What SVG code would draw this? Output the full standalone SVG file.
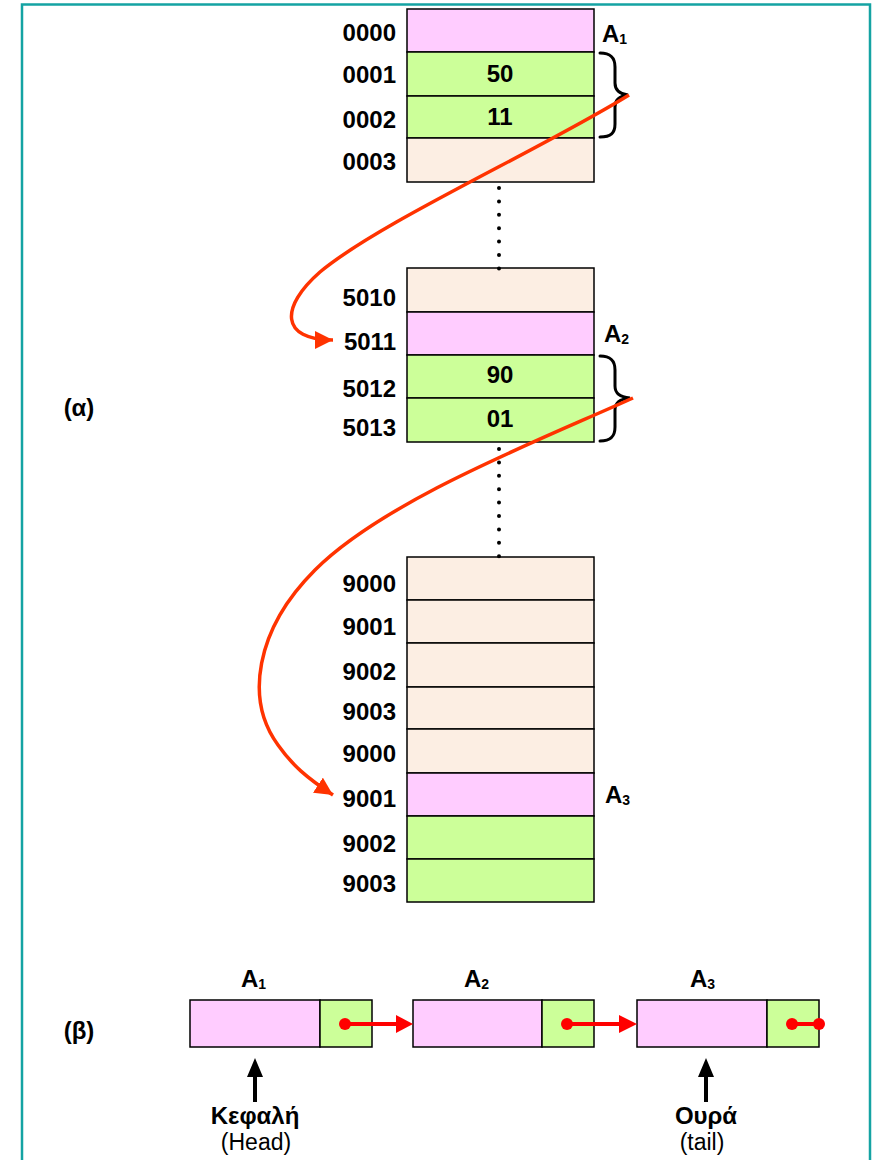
<svg xmlns="http://www.w3.org/2000/svg" width="875" height="1160" viewBox="0 0 875 1160">
<defs>
<style>
.pk{fill:#FFCCFF;stroke:#000;stroke-width:1.5}
.gr{fill:#CCFF99;stroke:#000;stroke-width:1.5}
.bg{fill:#FCEEE3;stroke:#000;stroke-width:1.5}
.lb{font-family:"Liberation Sans",Arial,sans-serif;font-weight:bold;font-size:24px;fill:#000}
.ad{text-anchor:end}
.mid{text-anchor:middle}
.sub{font-size:14px}
.brace{fill:none;stroke:#000;stroke-width:3;stroke-linecap:round}
.dots{fill:none;stroke:#000;stroke-width:4;stroke-linecap:round;stroke-dasharray:0 13.4}
.curve{fill:none;stroke:#FF3300;stroke-width:3.5}
.rl{fill:none;stroke:#FF0000;stroke-width:4}
.rd{fill:#FF0000}
.reg{font-family:"Liberation Sans",Arial,sans-serif;font-size:23px;fill:#000;text-anchor:middle}
</style>
<marker id="oa" markerWidth="20" markerHeight="20" refX="18" refY="9" orient="auto" markerUnits="userSpaceOnUse" viewBox="0 0 20 20">
<path d="M0,0 L18,9 L0,18 Z" fill="#FF3300"/>
</marker>
</defs>
<rect width="875" height="1160" fill="#fff"/>
<path d="M22,1160 V4.5 H870 V1160" fill="none" stroke="#14A3A3" stroke-width="2.5"/>

<g id="label-alpha"><text class="lb mid" x="79" y="416">(α)</text></g>
<g id="label-beta"><text class="lb mid" x="79" y="1039">(β)</text></g>

<g id="block1">
<rect class="pk" x="407" y="9" width="187" height="43"/>
<rect class="gr" x="407" y="52" width="187" height="44"/>
<rect class="gr" x="407" y="96" width="187" height="42"/>
<rect class="bg" x="407" y="138" width="187" height="44"/>
<text class="lb ad" x="396" y="41">0000</text>
<text class="lb ad" x="396" y="83">0001</text>
<text class="lb ad" x="396" y="128">0002</text>
<text class="lb ad" x="396" y="170">0003</text>
<text class="lb mid" x="500" y="82">50</text>
<text class="lb mid" x="500" y="125">11</text>
<text class="lb" x="602" y="42" font-size="21">A<tspan class="sub" dy="2">1</tspan></text>
<path class="brace" d="M600,53 C611,53 615,58 615,67 L615,83 C615,90 619,94 628,95 C619,96 615,100 615,107 L615,124 C615,133 611,137 600,137"/>
</g>

<g id="block2">
<rect class="bg" x="407" y="268" width="187" height="44"/>
<rect class="pk" x="407" y="312" width="187" height="43"/>
<rect class="gr" x="407" y="355" width="187" height="43"/>
<rect class="gr" x="407" y="398" width="187" height="44"/>
<text class="lb ad" x="396" y="306">5010</text>
<text class="lb ad" x="396" y="350">5011</text>
<text class="lb ad" x="396" y="397">5012</text>
<text class="lb ad" x="396" y="436">5013</text>
<text class="lb mid" x="500" y="383">90</text>
<text class="lb mid" x="500" y="427">01</text>
<text class="lb" x="604" y="342" font-size="21">A<tspan class="sub" dy="2">2</tspan></text>
<path class="brace" d="M600,356 C611,356 615,361 615,370 L615,386 C615,393 619,397 630,398 C619,399 615,403 615,410 L615,427 C615,436 611,441 600,441"/>
</g>

<g id="block3">
<rect class="bg" x="407" y="557" width="187" height="43"/>
<rect class="bg" x="407" y="600" width="187" height="43"/>
<rect class="bg" x="407" y="643" width="187" height="44"/>
<rect class="bg" x="407" y="687" width="187" height="42"/>
<rect class="bg" x="407" y="729" width="187" height="44"/>
<rect class="pk" x="407" y="773" width="187" height="43"/>
<rect class="gr" x="407" y="816" width="187" height="43"/>
<rect class="gr" x="407" y="859" width="187" height="43"/>
<text class="lb ad" x="396" y="592">9000</text>
<text class="lb ad" x="396" y="635">9001</text>
<text class="lb ad" x="396" y="680">9002</text>
<text class="lb ad" x="396" y="720">9003</text>
<text class="lb ad" x="396" y="762">9000</text>
<text class="lb ad" x="396" y="807">9001</text>
<text class="lb ad" x="396" y="852">9002</text>
<text class="lb ad" x="396" y="892">9003</text>
<text class="lb" x="605" y="803" font-size="21">A<tspan class="sub" dy="2">3</tspan></text>
</g>

<g id="gaps">
<path class="dots" d="M499,188 V268.5"/>
<path class="dots" d="M499,449 V556.5"/>
</g>

<g id="list-node1">
<rect class="pk" x="190" y="1000" width="130" height="47"/>
<rect class="gr" x="320" y="1000" width="52" height="47"/>
<text class="lb" x="241" y="987" font-size="20">A<tspan class="sub" dy="2">1</tspan></text>
</g>
<g id="list-node2">
<rect class="pk" x="413" y="1000" width="129" height="47"/>
<rect class="gr" x="542" y="1000" width="52" height="47"/>
<text class="lb" x="464" y="987" font-size="20">A<tspan class="sub" dy="2">2</tspan></text>
</g>
<g id="list-node3">
<rect class="pk" x="637" y="1000" width="130" height="47"/>
<rect class="gr" x="767" y="1000" width="52" height="47"/>
<text class="lb" x="690" y="987" font-size="20">A<tspan class="sub" dy="2">3</tspan></text>
</g>

<g id="head">
<path d="M255,1058 L247,1077 L253,1077 L253,1102 L257,1102 L257,1077 L263,1077 Z" fill="#000"/>
<text class="lb mid" x="255" y="1124" font-size="25">Κεφαλή</text>
<text class="reg" x="256" y="1150">(Head)</text>
</g>
<g id="tail">
<path d="M706,1058 L698,1077 L704,1077 L704,1102 L708,1102 L708,1077 L714,1077 Z" fill="#000"/>
<text class="lb mid" x="706" y="1124" font-size="25">Ουρά</text>
<text class="reg" x="702" y="1150">(tail)</text>
</g>

<g id="connectors">
<path class="curve" marker-end="url(#oa)" d="M629,95 C540,150 380,222 320,272 C280,307 280,340 333,340"/>
<path class="curve" marker-end="url(#oa)" d="M633,398 C540,440 385,500 315,570 C255,630 245,700 278,745 C292,765 307,778 333,795"/>
<line class="rl" x1="345" y1="1024" x2="398" y2="1024"/>
<path class="rd" d="M396,1015 L413,1024 L396,1033 Z"/>
<circle class="rd" cx="345" cy="1024" r="6"/>
<line class="rl" x1="567" y1="1024" x2="621" y2="1024"/>
<path class="rd" d="M619,1015 L637,1024 L619,1033 Z"/>
<circle class="rd" cx="567" cy="1024" r="6"/>
<line class="rl" x1="792" y1="1024" x2="819" y2="1024"/>
<circle class="rd" cx="792" cy="1024" r="6"/>
<circle class="rd" cx="819" cy="1024" r="6"/>
</g>
</svg>
